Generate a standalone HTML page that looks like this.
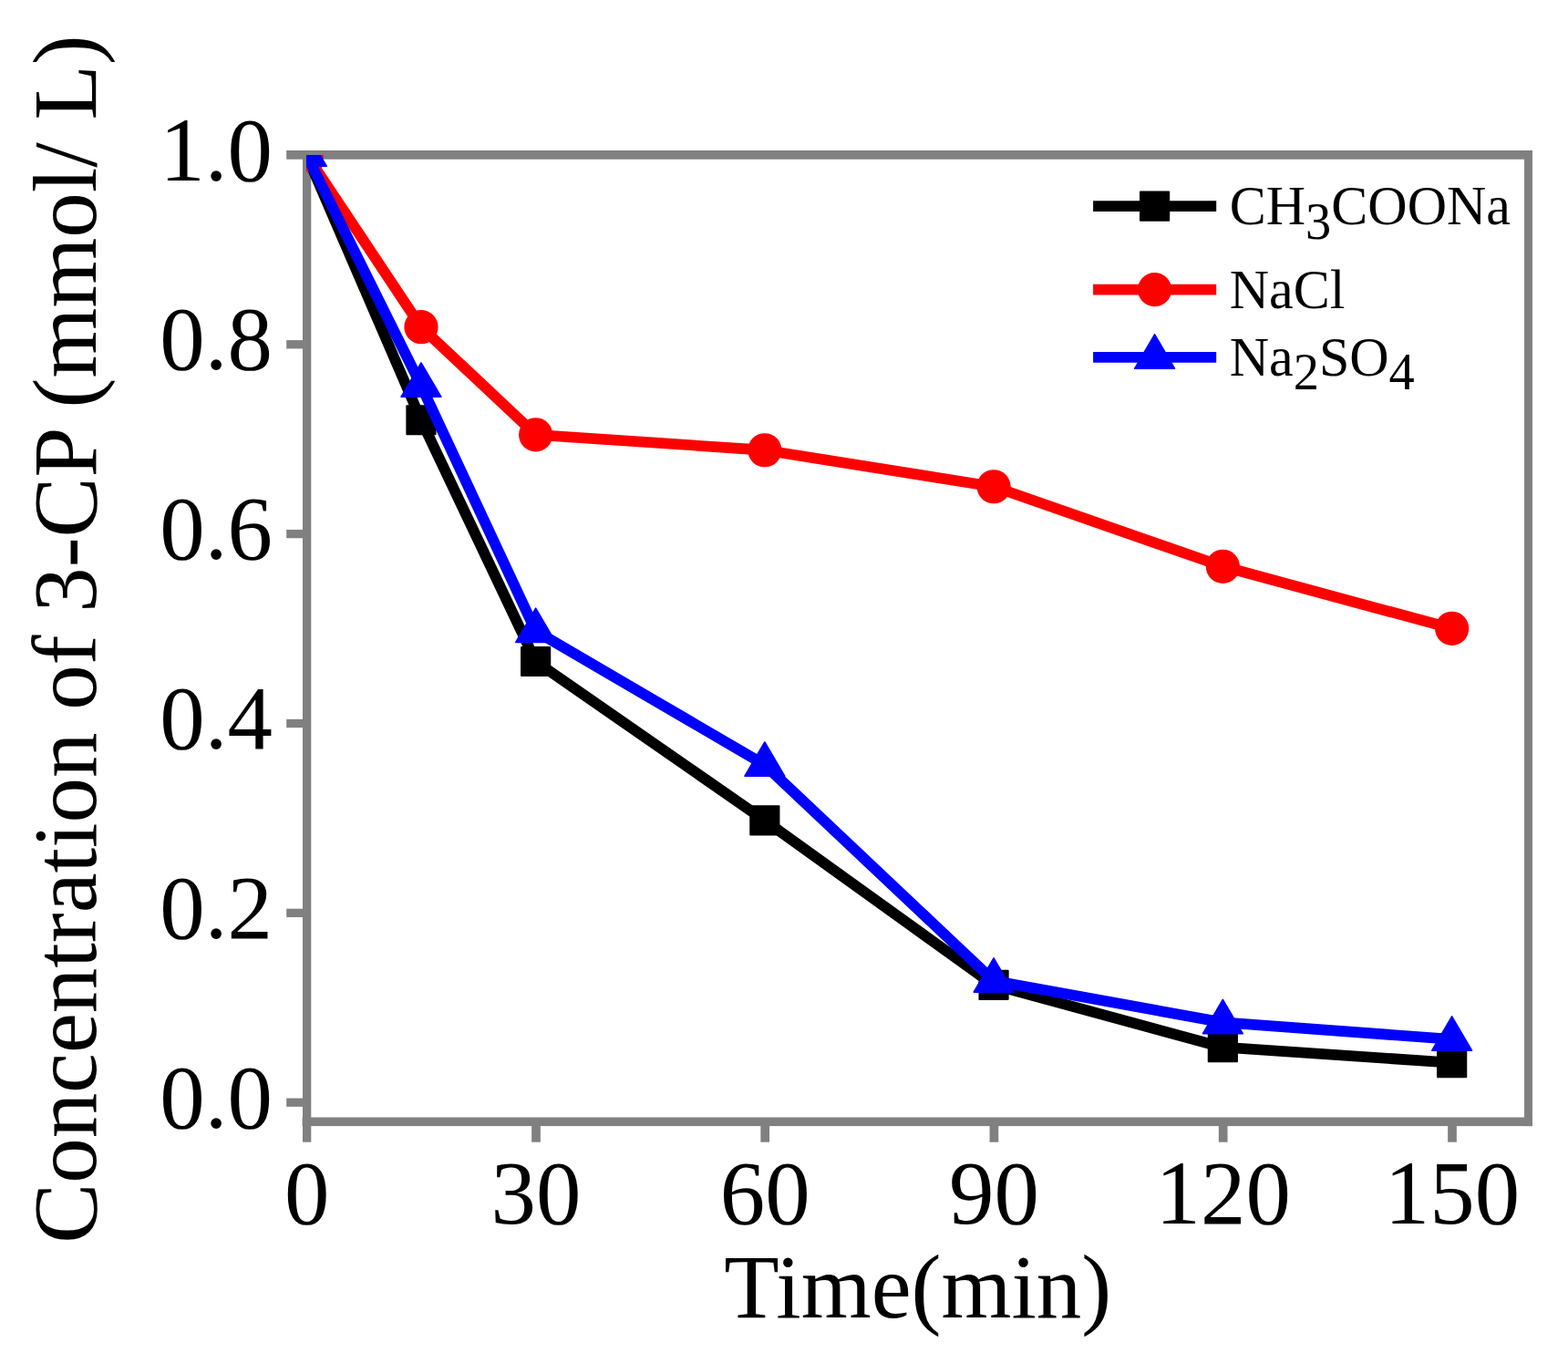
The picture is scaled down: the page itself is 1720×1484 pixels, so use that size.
<!DOCTYPE html>
<html lang="en"><head><meta charset="utf-8"><title>Concentration of 3-CP vs Time</title>
<style>
html,body{margin:0;padding:0;background:#fff;}
body{width:1720px;height:1484px;overflow:hidden;}
svg{display:block;position:absolute;left:0;top:0;}
text{font-family:"Liberation Serif","Times New Roman",serif;fill:#000;}
</style></head><body>
<svg width="1720" height="1484" viewBox="0 0 1720 1484">
<rect width="1720" height="1484" fill="#fff"/>
<g fill="#808080">
<rect x="314.20" y="165.00" width="1366.75" height="9.75"/>
<rect x="331.60" y="1225.50" width="1349.35" height="9.60"/>
<rect x="332.00" y="165.00" width="9.30" height="1087.70"/>
<rect x="1672.05" y="165.00" width="8.90" height="1070.10"/>
<rect x="314.20" y="1204.55" width="19.80" height="9.30"/>
<rect x="314.20" y="996.69" width="19.80" height="9.30"/>
<rect x="314.20" y="788.83" width="19.80" height="9.30"/>
<rect x="314.20" y="580.97" width="19.80" height="9.30"/>
<rect x="314.20" y="373.11" width="19.80" height="9.30"/>
<rect x="583.15" y="1230.00" width="9.70" height="22.70"/>
<rect x="834.35" y="1230.00" width="9.70" height="22.70"/>
<rect x="1085.55" y="1230.00" width="9.70" height="22.70"/>
<rect x="1336.85" y="1230.00" width="9.70" height="22.70"/>
<rect x="1588.15" y="1230.00" width="9.70" height="22.70"/>
</g>
<defs><clipPath id="c"><rect x="336.1" y="169.9" width="1340.4" height="1060.4"/></clipPath></defs>
<g clip-path="url(#c)">
<polyline points="336.30,169.90 461.95,460.75 587.65,725.50 838.85,899.90 1090.05,1080.40 1341.35,1148.70 1592.65,1165.60" fill="none" stroke="#000" stroke-width="11.8" stroke-linejoin="round"/>
<rect x="319.70" y="153.30" width="33.2" height="33.2" rx="1" fill="#000"/>
<rect x="445.35" y="444.15" width="33.2" height="33.2" rx="1" fill="#000"/>
<rect x="571.05" y="708.90" width="33.2" height="33.2" rx="1" fill="#000"/>
<rect x="822.25" y="883.30" width="33.2" height="33.2" rx="1" fill="#000"/>
<rect x="1073.45" y="1063.80" width="33.2" height="33.2" rx="1" fill="#000"/>
<rect x="1324.75" y="1132.10" width="33.2" height="33.2" rx="1" fill="#000"/>
<rect x="1576.05" y="1149.00" width="33.2" height="33.2" rx="1" fill="#000"/>
<polyline points="336.30,169.90 461.95,358.70 587.65,476.80 838.85,493.75 1090.05,533.75 1341.35,621.30 1592.65,689.30" fill="none" stroke="#f00" stroke-width="11.8" stroke-linejoin="round"/>
<circle cx="336.30" cy="169.90" r="18.6" fill="#f00"/>
<circle cx="461.95" cy="358.70" r="18.6" fill="#f00"/>
<circle cx="587.65" cy="476.80" r="18.6" fill="#f00"/>
<circle cx="838.85" cy="493.75" r="18.6" fill="#f00"/>
<circle cx="1090.05" cy="533.75" r="18.6" fill="#f00"/>
<circle cx="1341.35" cy="621.30" r="18.6" fill="#f00"/>
<circle cx="1592.65" cy="689.30" r="18.6" fill="#f00"/>
<polyline points="336.30,169.90 461.95,422.90 587.65,692.20 838.85,838.90 1090.05,1075.80 1341.35,1121.40 1592.65,1139.90" fill="none" stroke="#00f" stroke-width="11.8" stroke-linejoin="round"/>
<polygon points="336.30,144.90 358.15,182.20 314.45,182.20" fill="#00f" stroke="#00f" stroke-width="1.6" stroke-linejoin="round"/>
<polygon points="461.95,397.90 483.80,435.20 440.10,435.20" fill="#00f" stroke="#00f" stroke-width="1.6" stroke-linejoin="round"/>
<polygon points="587.65,667.20 609.50,704.50 565.80,704.50" fill="#00f" stroke="#00f" stroke-width="1.6" stroke-linejoin="round"/>
<polygon points="838.85,813.90 860.70,851.20 817.00,851.20" fill="#00f" stroke="#00f" stroke-width="1.6" stroke-linejoin="round"/>
<polygon points="1090.05,1050.80 1111.90,1088.10 1068.20,1088.10" fill="#00f" stroke="#00f" stroke-width="1.6" stroke-linejoin="round"/>
<polygon points="1341.35,1096.40 1363.20,1133.70 1319.50,1133.70" fill="#00f" stroke="#00f" stroke-width="1.6" stroke-linejoin="round"/>
<polygon points="1592.65,1114.90 1614.50,1152.20 1570.80,1152.20" fill="#00f" stroke="#00f" stroke-width="1.6" stroke-linejoin="round"/>
</g>
<line x1="1199.1" x2="1334.2" y1="226.2" y2="226.2" stroke="#000" stroke-width="11.8"/>
<rect x="1250.00" y="209.60" width="33.2" height="33.2" rx="1" fill="#000"/>
<line x1="1199.1" x2="1334.2" y1="317.6" y2="317.6" stroke="#f00" stroke-width="11.8"/>
<circle cx="1266.60" cy="317.60" r="18.6" fill="#f00"/>
<line x1="1199.1" x2="1334.2" y1="391.9" y2="391.9" stroke="#00f" stroke-width="11.8"/>
<polygon points="1266.60,366.90 1288.45,404.20 1244.75,404.20" fill="#00f" stroke="#00f" stroke-width="1.6" stroke-linejoin="round"/>
<text transform="translate(1348.70,245.70) scale(1,1.01)" font-size="60">CH<tspan font-size="56.5" dy="16.4">3</tspan><tspan dy="-16.4">COONa</tspan></text>
<text transform="translate(1348.70,337.80) scale(1,1.01)" font-size="60">NaCl</text>
<text transform="translate(1348.70,412.00) scale(1,1.01)" font-size="60">Na<tspan font-size="56.5" dy="15.2">2</tspan><tspan dy="-15.2">SO</tspan><tspan font-size="56.5" dy="15.2">4</tspan></text>
<text transform="translate(298.90,1236.90) scale(1,1.0156)" font-size="98.9" text-anchor="end">0.0</text>
<text transform="translate(298.90,1029.04) scale(1,1.0156)" font-size="98.9" text-anchor="end">0.2</text>
<text transform="translate(298.90,821.18) scale(1,1.0156)" font-size="98.9" text-anchor="end">0.4</text>
<text transform="translate(298.90,613.32) scale(1,1.0156)" font-size="98.9" text-anchor="end">0.6</text>
<text transform="translate(298.90,405.46) scale(1,1.0156)" font-size="98.9" text-anchor="end">0.8</text>
<text transform="translate(298.90,197.60) scale(1,1.0156)" font-size="98.9" text-anchor="end">1.0</text>
<text transform="translate(336.65,1341.90) scale(1,1.0156)" font-size="98.9" text-anchor="middle">0</text>
<text transform="translate(588.00,1341.90) scale(1,1.0156)" font-size="98.9" text-anchor="middle">30</text>
<text transform="translate(839.20,1341.90) scale(1,1.0156)" font-size="98.9" text-anchor="middle">60</text>
<text transform="translate(1090.40,1341.90) scale(1,1.0156)" font-size="98.9" text-anchor="middle">90</text>
<text transform="translate(1341.70,1341.90) scale(1,1.0156)" font-size="98.9" text-anchor="middle">120</text>
<text transform="translate(1593.00,1341.90) scale(1,1.0156)" font-size="98.9" text-anchor="middle">150</text>
<text transform="translate(1006.80,1444.50) scale(1,1.0156)" font-size="98.9" text-anchor="middle">Time(min)</text>
<text transform="translate(105.05,701.00) rotate(-90) scale(1,1.0156)" font-size="98.9" text-anchor="middle">Concentration of 3-CP (mmol/ L)</text>
</svg></body></html>
